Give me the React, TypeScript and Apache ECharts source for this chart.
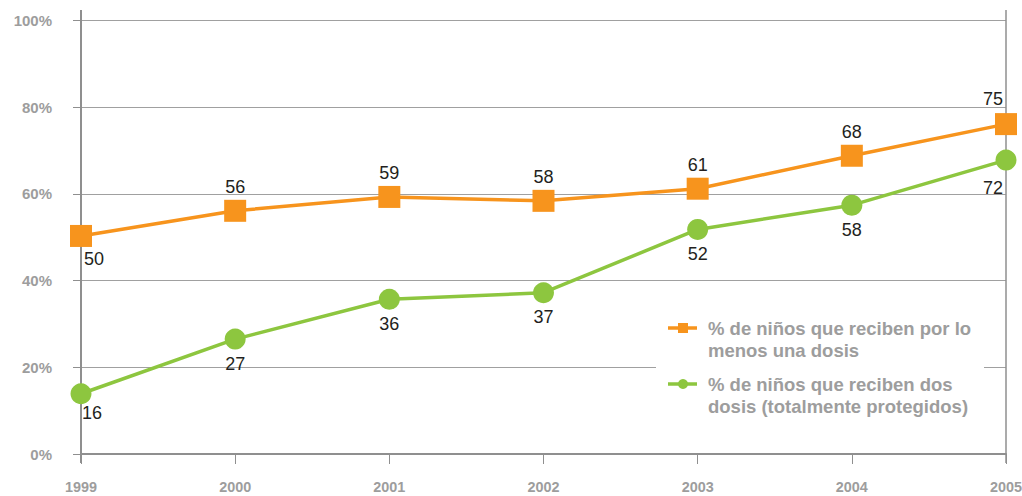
import React, { useEffect, useRef } from "react";
import * as echarts from "echarts";

const years = ["1999", "2000", "2001", "2002", "2003", "2004", "2005"];
const yTicks = [0, 20, 40, 60, 80, 100];
// plotted positions (as drawn in the picture)
const atLeastOneDose = [50.3, 56.1, 59.3, 58.4, 61.2, 68.8, 76.1];
const twoDoses = [13.9, 26.5, 35.7, 37.2, 51.8, 57.4, 67.8];
// printed labels
const atLeastOneDoseLabels = ["50", "56", "59", "58", "61", "68", "75"];
const twoDosesLabels = ["16", "27", "36", "37", "52", "58", "72"];
const legendNames = [
  "% de niños que reciben por lo\nmenos una dosis",
  "% de niños que reciben dos\ndosis (totalmente protegidos)",
];

const ORANGE = "#F7941D";
const GREEN = "#8DC63F";
const AXIS = "#8f8f8f";
const LABEL_GRAY = "#9d9d9d";
const SANS = "'Liberation Sans', Arial, Helvetica, sans-serif";

export default function App() {
  const ref = useRef<HTMLDivElement>(null);
  useEffect(() => {
    if (!ref.current) return;
    const chart = echarts.init(ref.current, undefined, { renderer: "svg" });
    const labelFont = {
      fontFamily: SANS,
      fontSize: 18,
      color: "#231f20",
    };
    const orangeData = atLeastOneDose.map((v, i) => {
      let label: any = { position: "top", distance: 4 };
      if (i === 0) label = { position: "bottom", distance: 3, offset: [13, 0] };
      if (i === atLeastOneDose.length - 1) label = { position: "top", distance: 5, offset: [-13, 0] };
      return { value: v, label };
    });
    const greenData = twoDoses.map((v, i) => {
      let label: any = { position: "bottom", distance: 5 };
      if (i === 0) label = { position: "bottom", distance: 0, offset: [11, 0] };
      if (i === twoDoses.length - 1) label = { position: "bottom", distance: 8, offset: [-13, 0] };
      return { value: v, label };
    });
    const legendText = {
      fontWeight: "bold",
      fontSize: 18.5,
      fontFamily: SANS,
      fill: LABEL_GRAY,
      lineHeight: 22,
      verticalAlign: "top",
    };
    chart.setOption({
      animation: false,
      backgroundColor: "#ffffff",
      grid: { left: 81, right: 16, top: 20.5, bottom: 42, containLabel: false, outerBoundsMode: "none" },
      xAxis: {
        type: "category",
        data: years,
        boundaryGap: false,
        axisLine: { show: true, lineStyle: { color: AXIS, width: 2 } },
        axisTick: { show: true, length: 10, inside: false, lineStyle: { color: AXIS, width: 1 } },
        axisLabel: {
          margin: 26,
          color: LABEL_GRAY,
          fontWeight: "bold",
          fontSize: 14.4,
          lineHeight: 14,
          fontFamily: SANS,
          hideOverlap: false,
        },
        splitLine: { show: false },
      },
      yAxis: {
        type: "value",
        min: yTicks[0],
        max: yTicks[yTicks.length - 1],
        interval: 20,
        axisLine: { show: false },
        axisTick: { show: true, length: 8, lineStyle: { color: AXIS, width: 1 } },
        axisLabel: {
          margin: 29,
          formatter: (v: number) => `${v}%`,
          color: LABEL_GRAY,
          fontWeight: "bold",
          fontSize: 15,
          fontFamily: SANS,
        },
        splitLine: { show: true, lineStyle: { color: "#a0a0a0", width: 1 } },
      },
      series: [
        {
          type: "line",
          name: legendNames[0],
          data: orangeData,
          symbol: "rect",
          symbolSize: 22,
          lineStyle: { color: ORANGE, width: 3.5 },
          itemStyle: { color: ORANGE },
          label: {
            show: true,
            ...labelFont,
            formatter: (p: any) => atLeastOneDoseLabels[p.dataIndex],
          },
          z: 3,
        },
        {
          type: "line",
          name: legendNames[1],
          data: greenData,
          symbol: "circle",
          symbolSize: 21,
          lineStyle: { color: GREEN, width: 3.5 },
          itemStyle: { color: GREEN },
          label: {
            show: true,
            ...labelFont,
            formatter: (p: any) => twoDosesLabels[p.dataIndex],
          },
          z: 3,
        },
      ],
      graphic: [
        { type: "line", shape: { x1: 81, y1: 10, x2: 81, y2: 463 }, style: { stroke: AXIS, lineWidth: 2 }, z: 1 },
        { type: "line", shape: { x1: 1006, y1: 10, x2: 1006, y2: 463 }, style: { stroke: AXIS, lineWidth: 1.5 }, z: 1 },
        { type: "rect", shape: { x: 656, y: 312, width: 328, height: 108 }, style: { fill: "#ffffff" }, z: 2 },
        { type: "line", shape: { x1: 668, y1: 328, x2: 697, y2: 328 }, style: { stroke: ORANGE, lineWidth: 3.5 }, z: 3 },
        { type: "rect", shape: { x: 678, y: 323, width: 10, height: 10 }, style: { fill: ORANGE }, z: 3 },
        { type: "line", shape: { x1: 668, y1: 384, x2: 697, y2: 384 }, style: { stroke: GREEN, lineWidth: 3.5 }, z: 3 },
        { type: "circle", shape: { cx: 683, cy: 384, r: 5 }, style: { fill: GREEN }, z: 3 },
        { type: "text", x: 708, y: 317, z: 3, style: { text: legendNames[0], ...legendText } },
        { type: "text", x: 708, y: 373, z: 3, style: { text: legendNames[1], ...legendText } },
      ],
    });
    return () => chart.dispose();
  }, []);
  return <div ref={ref} style={{ position: "fixed", left: 0, top: 0, width: 1022, height: 496 }} />;
}
